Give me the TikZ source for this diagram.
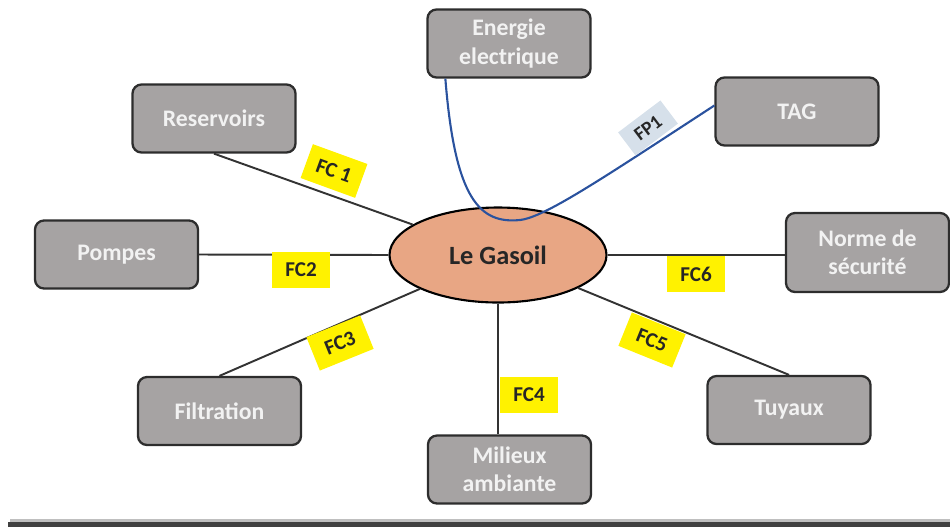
\documentclass[tikz,border=0pt]{standalone}
\usepackage{fontspec}
\setmainfont{Carlito}
\usetikzlibrary{shapes.geometric}
\definecolor{boxgray}{RGB}{166,163,163}
\definecolor{boxline}{RGB}{45,45,45}
\definecolor{gasfill}{RGB}{232,166,132}
\definecolor{fpblue}{RGB}{42,82,158}
\definecolor{fpfill}{RGB}{214,224,234}
\begin{document}
\begin{tikzpicture}[x=0.2mm,y=-0.2mm,
		bloc/.style={draw=boxline,line width=1.3pt,fill=boxgray,rounded corners=1.8mm,minimum width=32.6mm,minimum height=13.6mm,text=black!5,font=\fontsize{13.5}{16}\selectfont\bfseries,align=center,inner sep=1pt},
		gasoil/.style={ellipse,draw=black,line width=1.2pt,fill=gasfill,minimum width=43.4mm,minimum height=19mm,font=\fontsize{15}{17}\selectfont\bfseries,text=black!85},
		liaison/.style={draw=black!80,line width=1.1pt},
		fc/.style={fill=yellow,font=\fontsize{12}{14}\selectfont\bfseries,text=black!85,minimum width=11.6mm,minimum height=7.2mm,inner sep=1pt},
		fp/.style={draw=fpblue,line width=1.2pt}]
		\useasboundingbox (0,0) rectangle (950,527);
		% bande du bas
		\fill[black!25] (10,519) rectangle (950,522);
		\fill[black!75] (8,522) rectangle (950,527);
		% milieu exterieur
		\node[gasoil] (gas) at (498,255) {Le Gasoil};
		\node[bloc] (ene) at (509,43.5) {Energie\\electrique};
		\node[bloc] (tag) at (797,111.5) {TAG};
		\node[bloc] (res) at (214,118.5) {Reservoirs};
		\node[bloc] (pom) at (116.5,254.5) {Pompes};
		\node[bloc] (fil) at (219.5,411) {Filtration};
		\node[bloc] (mil) at (509.5,469.5) {Milieux\\ambiante};
		\node[bloc] (tuy) at (789,410) {Tuyaux};
		\node[bloc,minimum height=15.8mm] (nor) at (867.5,252.5) {Norme de\\sécurité};
		% liaisons FC
		\draw[liaison] (res.south) -- (gas);
		\draw[liaison] (pom.east) -- (gas.west);
		\draw[liaison] (fil.north) -- (gas);
		\draw[liaison] (gas.south) -- (gas.south |- mil.north);
		\draw[liaison] (tuy.north) -- (gas);
		\draw[liaison] (gas.east) -- (gas.east -| nor.west);
		% FP1
		\draw[fp] ([xshift=3.8mm]ene.south west) .. controls (455,200) and (480,224) .. (520,220) .. controls (545,217) and (600,180) .. ([yshift=1.2mm]tag.west);
		\node[fc,rotate=-20] (fc1) at (334,171) {FC 1};
		\node[fc] (fc2) at (301,270) {FC2};
		\node[fc,rotate=22] (fc3) at (340,343) {FC3};
		\node[fc] (fc4) at (529,395) {FC4};
		\node[fc,rotate=-22] (fc5) at (652,340) {FC5};
		\node[fc] (fc6) at (696,274) {FC6};
		\node[fc,fill=fpfill,minimum width=10.6mm,minimum height=5.8mm,font=\fontsize{11}{13}\selectfont\bfseries,rotate=37] (fp1) at (648,128) {FP1};
	\end{tikzpicture}
\end{document}
